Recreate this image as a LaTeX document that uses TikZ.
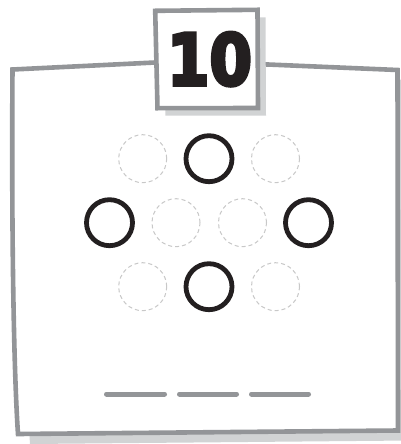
\documentclass[tikz,border=0pt]{standalone}
\usepackage{fontspec}
\usepackage{graphicx}
\newfontfamily\numfont[FakeBold=5]{DejaVu Sans Bold}
\definecolor{framegray}{HTML}{939598}
\definecolor{shadowgray}{HTML}{D1D3D4}
\definecolor{dashgray}{HTML}{C8C8C8}
\definecolor{inkblack}{HTML}{231F20}
\tikzset{
  frameline/.style={draw=framegray, line width=4.6pt, fill=white, line join=miter},
  shadowfill/.style={fill=shadowgray},
  boldring/.style={circle, draw=inkblack, line width=4.8pt, minimum size=46pt, inner sep=0pt},
  ghostring/.style={circle, draw=dashgray, line width=1pt, dash pattern=on 4pt off 3pt, minimum size=48pt, inner sep=0pt},
  blankline/.style={draw=framegray, line width=5pt, line cap=round},
}
\begin{document}
\begin{tikzpicture}[x=1pt,y=-1pt]
\useasboundingbox (0,0) rectangle (401,444);
\clip (0,0) rectangle (401,444);
% main card shadow
\path[shadowfill, shift={(12,10)}] (12.5,69.5) -- (155,62.5) -- (268,64.5) -- (397.5,70) -- (398,430.5) -- (18,434) .. controls (13,360) and (11.5,200) .. (12.5,69.5) -- cycle;
% main card
\path[frameline] (12.5,69.5) -- (155,62.5) -- (268,64.5) -- (397.5,70) -- (398,430.5) -- (18,434) .. controls (13,360) and (11.5,200) .. (12.5,69.5) -- cycle;
% number box shadow
\path[shadowfill, shift={(8,7.5)}] (155.2,10.8) -- (257.5,9.8) -- (258,108) -- (157.5,108.2) -- cycle;
% number box
\path[frameline] (155.2,10.8) -- (257.5,9.8) -- (258,108) -- (157.5,108.2) -- cycle;
\node[anchor=base, inner sep=0pt, text=inkblack] (num) at (209.5,85)
  {\scalebox{0.86}[1]{\fontsize{71}{71}\numfont 10}};
% circles
\node[ghostring] (c1) at (142.7,158.7) {};
\node[boldring]  (c2) at (209,158.7) {};
\node[ghostring] (c3) at (275.5,158.7) {};
\node[boldring]  (c4) at (109.5,222.7) {};
\node[ghostring] (c5) at (176,222.7) {};
\node[ghostring] (c6) at (242.5,222.7) {};
\node[boldring]  (c7) at (308.5,222.7) {};
\node[ghostring] (c8) at (142.7,286.7) {};
\node[boldring]  (c9) at (209,286.7) {};
\node[ghostring] (c10) at (275.5,286.7) {};
% answer blanks
\coordinate (b1s) at (106.5,394);
\coordinate (b1e) at (164.5,394);
\coordinate (b2s) at (179.5,394);
\coordinate (b2e) at (236.5,394);
\coordinate (b3s) at (251.5,394);
\coordinate (b3e) at (308.5,394);
\draw[blankline] (b1s) -- (b1e);
\draw[blankline] (b2s) -- (b2e);
\draw[blankline] (b3s) -- (b3e);
\end{tikzpicture}
\end{document}
